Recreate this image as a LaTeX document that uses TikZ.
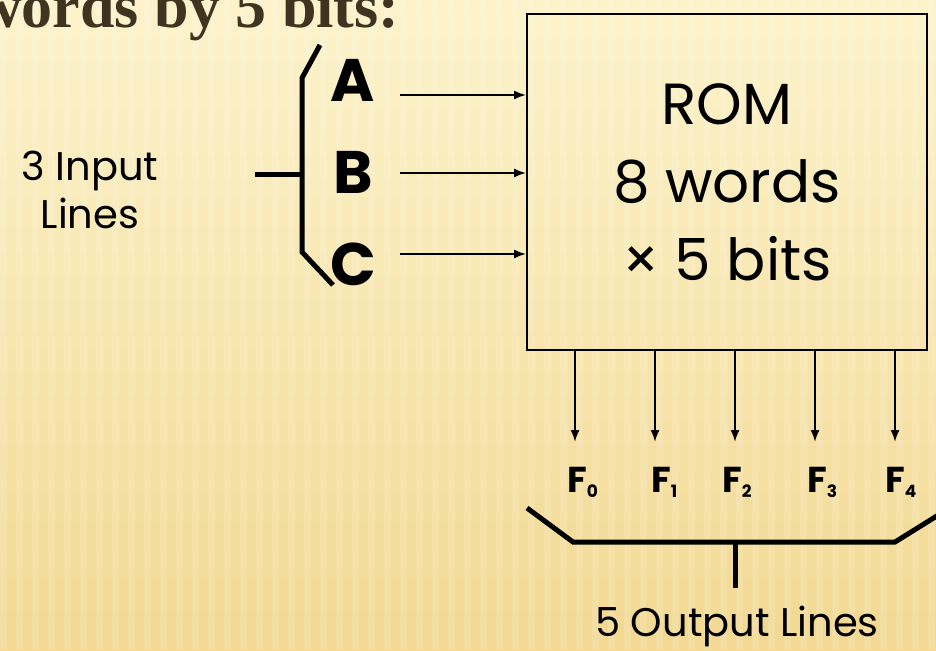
\documentclass[tikz,border=0pt]{standalone}
\usepackage{fontspec}
\setmainfont{Poppins}
\newfontfamily\headfont{Liberation Serif}
\usetikzlibrary{arrows.meta,positioning}
\definecolor{paper}{HTML}{FCF3CB}
\definecolor{paperdark}{HTML}{F2D891}
\definecolor{headbrown}{HTML}{3F3420}

\begin{document}
\begin{tikzpicture}[
    x=1pt, y=-1pt,
    rombox/.style={rectangle, draw, line width=1.8pt, minimum width=400pt, minimum height=336pt, align=center, font=\fontsize{58}{78}\selectfont},
    arrow/.style={-{Latex[length=12pt,width=9pt]}, line width=2pt},
    brace/.style={line width=5pt},
    letter/.style={font=\fontsize{60}{60}\selectfont\bfseries, inner sep=0pt, anchor=base},
    outname/.style={font=\fontsize{36}{36}\selectfont\bfseries, inner sep=0pt, anchor=base west},
    caption/.style={font=\fontsize{40}{48}\selectfont, align=center, inner sep=0pt}
]
    \clip (0,0) rectangle (936,650);
    % background
    \shade[top color=paper, bottom color=paperdark] (0,0) rectangle (936,650);
    \foreach \x in {0,16,...,936}
        \fill[white, opacity=0.15] (\x,0) rectangle (\x+7,650);

    \node[headbrown, font=\headfont\fontsize{62}{62}\selectfont\bfseries, anchor=base west, inner sep=0pt] (title) at (-23,28) {words by 5 bits:};

    % memory block
    \node[rombox] (rom) at (727,182) {ROM\\8 words\\× 5 bits};

    % inputs
    \node[letter] (inA) at (353,102) {A};
    \node[letter] (inB) at (353,193) {B};
    \node[letter] (inC) at (353,285) {C};
    \foreach \n/\y in {A/95, B/173, C/254} {
        \coordinate (s\n) at (400,\y);
        \draw[arrow] (s\n) -- (s\n -| rom.west);
    }
    \draw[brace] (320,45) -- (302,78) -- (302,252) -- (333,285);
    \draw[brace] (255,174) -- (302,174);
    \node[caption] (inlabel) at (90,190) {3 Input\\Lines};

    % outputs
    \foreach \i/\x/\fx in {0/575/567, 1/655/651, 2/735/722, 3/815/807, 4/895/885} {
        \coordinate (e\i) at (\x,442);
        \draw[arrow] (e\i |- rom.south) -- (e\i);
        \node[outname] (F\i) at (\fx,492) {F\raisebox{-5pt}{\fontsize{17}{17}\selectfont\i}};
    }
    \draw[brace] (527,508) -- (573,542) -- (895,542) -- (940,514);
    \draw[brace] (735,542) -- (735,588);
    \node[caption, anchor=base] (outlabel) at (737,636) {5 Output Lines};
\end{tikzpicture}
\end{document}
